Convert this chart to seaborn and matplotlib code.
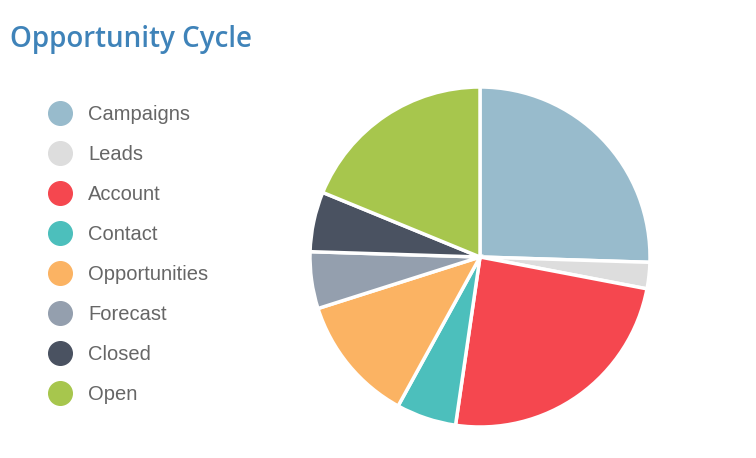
import matplotlib
matplotlib.use('Agg')
import matplotlib.pyplot as plt
from matplotlib.lines import Line2D
import seaborn as sns

sns.set_style('white')
plt.rcParams['font.family'] = ['Liberation Sans', 'DejaVu Sans']

# data
categories = ['Campaigns', 'Leads', 'Account', 'Contact', 'Opportunities', 'Forecast', 'Closed', 'Open']
values = [25.5, 2.5, 24.3, 5.7, 12.1, 5.4, 5.7, 18.8]
colors = ['#98BBCC', '#DDDDDD', '#F5474F', '#4CBFBC', '#FBB363', '#949FAE', '#4A5261', '#A7C64D']

W, H = 756, 458
fig = plt.figure(figsize=(W / 100, H / 100), dpi=100)

cx, cy, r = 480, 257, 170
ax = fig.add_axes([(cx - r) / W, (H - cy - r) / H, 2 * r / W, 2 * r / H])
wedges, _ = ax.pie(values, colors=colors, startangle=90, counterclock=False,
                   radius=1, wedgeprops=dict(edgecolor='white', linewidth=2.5))
ax.set_xlim(-1, 1)
ax.set_ylim(-1, 1)
ax.set_aspect('equal')
ax.axis('off')

fig.text(10 / W, 1 - 40 / H, 'Opportunity Cycle', fontsize=20, color='#3F83B9',
         family=['Open Sans', 'DejaVu Sans'], fontweight='semibold', va='center', ha='left')

handles = [Line2D([], [], marker='o', linestyle='none', markersize=17,
                  markerfacecolor=c, markeredgecolor=c) for c in colors]
fig.legend(handles, categories, loc='upper left', bbox_to_anchor=(50 / W, 1 - 105 / H),
           frameon=False, fontsize=14.5, labelcolor='#666666', borderpad=0,
           labelspacing=1.04, handlelength=1.0, handletextpad=0.9, borderaxespad=0)

fig.savefig('out.png', dpi=100)
